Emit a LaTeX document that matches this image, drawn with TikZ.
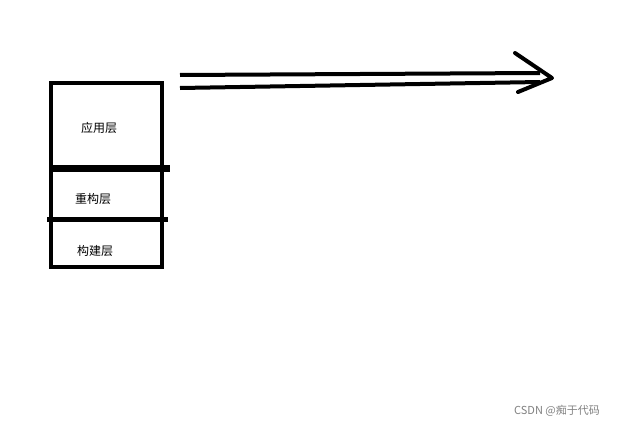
\documentclass[tikz,border=0pt]{standalone}
\usepackage{fontspec}
\newfontfamily\cjk{Noto Sans CJK SC}
\begin{document}
\begin{tikzpicture}[x=1pt,y=-1pt,line width=4pt,
  lbl/.style={font=\cjk\fontsize{12}{14}\selectfont,inner sep=0pt}]
\useasboundingbox (0,0) rectangle (642,431);
\draw (51,83) rectangle (162,267);
\draw[line width=7pt] (51,168) -- (170,168);
\draw[line width=5pt] (47,219) -- (168,219);
\node[lbl] (a) at (99,128) {应用层};
\node[lbl] (b) at (93,199) {重构层};
\node[lbl] (c) at (95,251) {构建层};
\coordinate (s1) at (180,75); \coordinate (e1) at (540,73);
\coordinate (s2) at (180,88); \coordinate (e2) at (540,82);
\draw (s1) -- (e1); \draw (s2) -- (e2);
\coordinate (t) at (552,78);
\draw[line cap=round,line join=round] (515,53) -- (t) -- (518,92);
\node[font=\cjk\fontsize{11}{13}\selectfont,text=gray,inner sep=0pt] (w) at (557,411) {CSDN @痴于代码};
\end{tikzpicture}
\end{document}
